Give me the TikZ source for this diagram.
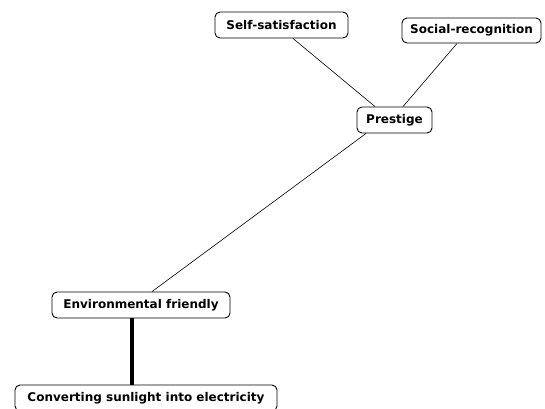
\documentclass[tikz,border=0pt]{standalone}
\usepackage{fontspec}
\setmainfont{DejaVu Sans}
\begin{document}
\begin{tikzpicture}[x=1pt,y=-1pt,
  concept/.style={draw, line width=0.9pt, rounded corners=5pt, inner sep=0pt,
    minimum height=26pt, font=\fontsize{12}{14}\selectfont\bfseries, text=black},
  link/.style={line width=0.6pt},
  mainlink/.style={line width=3.6pt}]
\useasboundingbox (0,0) rectangle (545,408);

% concepts
\node[concept, minimum width=133pt] (self) at (281.5,25) {Self-satisfaction};
\node[concept, minimum width=139pt, minimum height=25pt] (social) at (471.5,30.5) {Social-recognition};
\node[concept, minimum width=75pt] (prestige) at (394.5,120) {Prestige};
\node[concept, minimum width=178pt] (env) at (141,305) {Environmental friendly};
\node[concept, minimum width=262pt] (conv) at (146,398) {Converting sunlight into electricity};

% connections
\draw[link] ([xshift=11.5pt]self.south) -- ([xshift=-19.5pt]prestige.north);
\draw[link] ([xshift=-14.5pt]social.south) -- ([xshift=8.5pt]prestige.north);
\draw[link] ([xshift=-28.5pt]prestige.south) -- ([xshift=11pt]env.north);
\draw[mainlink] ([xshift=-9pt]env.south) -- ([xshift=-9pt]env.south |- conv.north);
\end{tikzpicture}
\end{document}
